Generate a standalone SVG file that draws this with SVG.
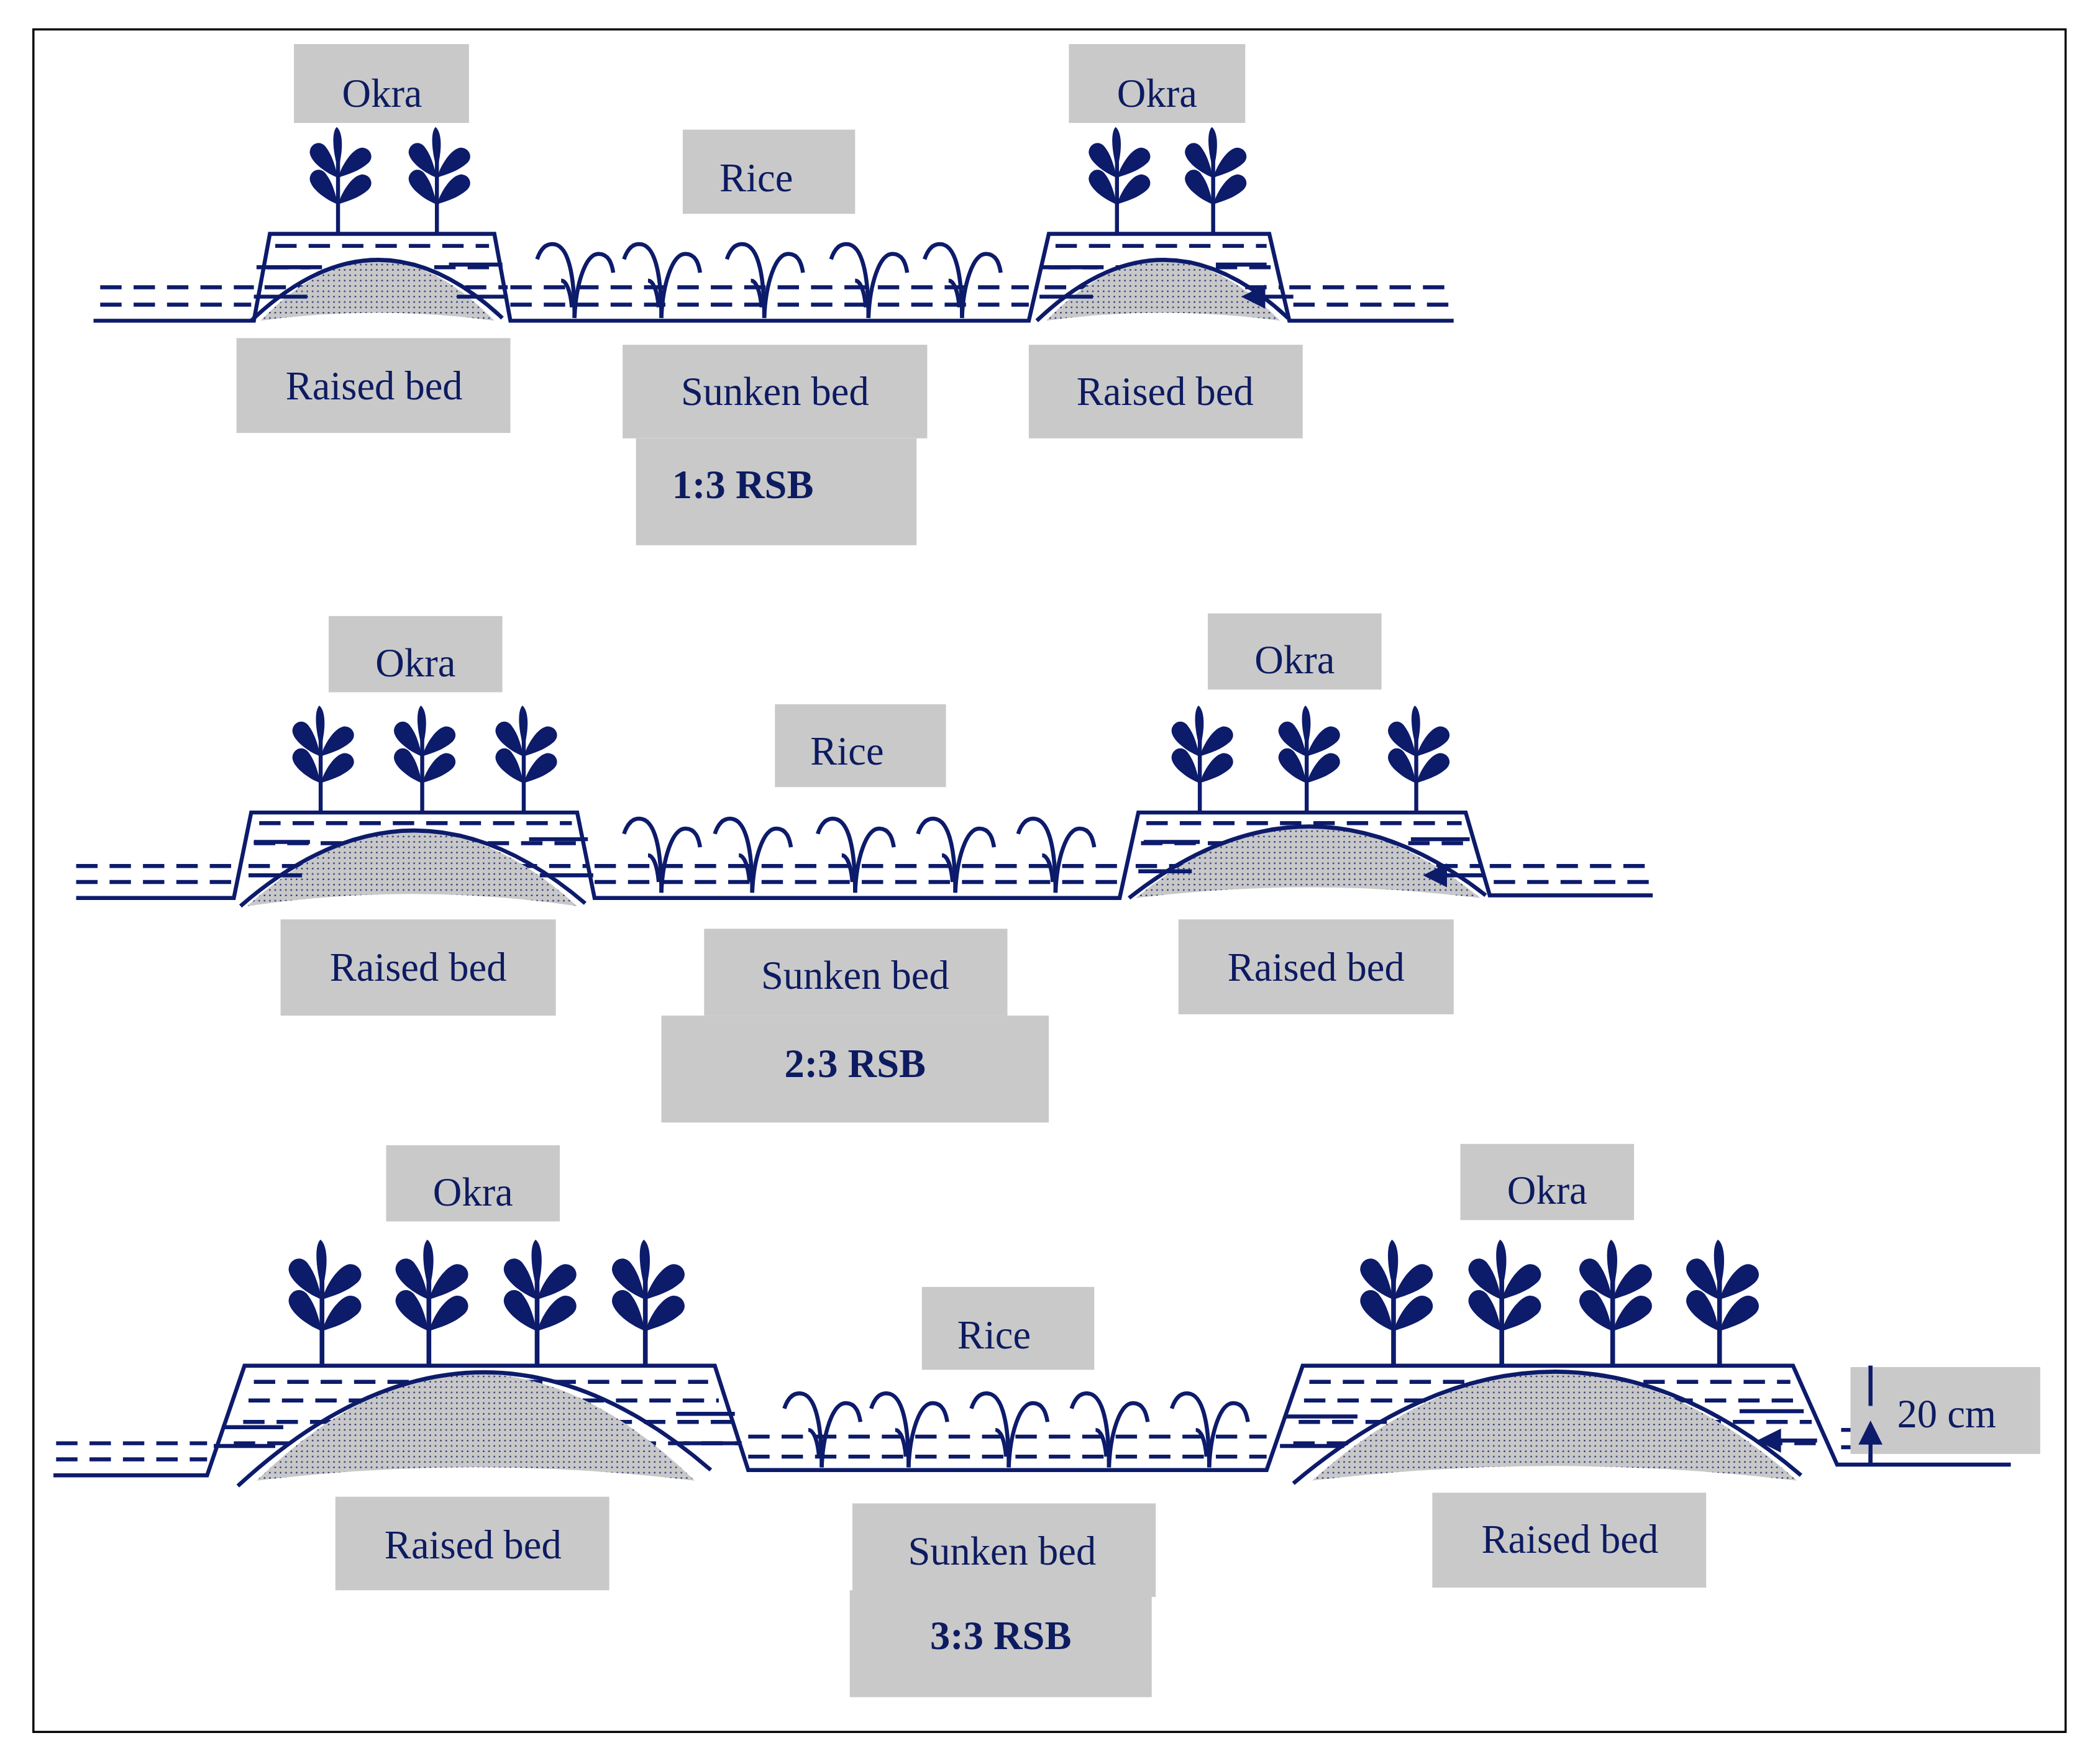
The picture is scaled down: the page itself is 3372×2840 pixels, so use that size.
<svg xmlns="http://www.w3.org/2000/svg" xmlns:xlink="http://www.w3.org/1999/xlink" width="3372" height="2840" viewBox="0 0 3372 2840">
<style>
.box{fill:#c9c9c9}
.t{font-family:"Liberation Serif",serif;font-size:30px;fill:#0d1b60;text-anchor:middle}
.b{font-weight:bold}
.ln{fill:none;stroke:#0d1b6b;stroke-width:3}
.ds{fill:none;stroke:#0d1b6b;stroke-width:3;stroke-dasharray:16 9}
.ar{fill:none;stroke:#0d1b6b;stroke-width:3;marker-end:url(#ah)}
.md{fill:url(#dots)}
.nv{fill:#0d1b6b}
</style>
<defs>
<pattern id="dots" width="4" height="4" patternUnits="userSpaceOnUse"><rect width="4" height="4" fill="#c8c8c8"/><circle cx="2" cy="2" r="0.6" fill="#0d1b6b"/></pattern>
<marker id="ah" markerWidth="6" markerHeight="6" refX="5" refY="3" orient="auto" markerUnits="strokeWidth"><path d="M0,0 L6,3 L0,6 Z" fill="#0d1b6b"/></marker>
<path id="leaf" d="M0,0 C-5,-8 -9,-22 -5,-28 C-1,-33 7,-31 7,-24 C7,-15 3,-7 0,0Z" fill="#0d1b6b"/>
<g id="okra">
<path d="M0,0 L0,-62" class="ln"/>
<path d="M0,-48 C-4,-62 -5,-76 -1,-80 C4,-76 4,-62 0,-48Z" class="nv"/>
<use xlink:href="#leaf" transform="translate(0,-22) rotate(-38)"/>
<use xlink:href="#leaf" transform="translate(0,-22) rotate(48)"/>
<use xlink:href="#leaf" transform="translate(0,-42) rotate(-38)"/>
<use xlink:href="#leaf" transform="translate(0,-42) rotate(48)"/>
</g>
<g id="rice" class="ln">
<path d="M0,0 C0,-30 -4,-52 -14,-55 C-22,-57 -26,-50 -28,-44"/>
<path d="M0,0 C1,-25 8,-48 18,-48 C26,-48 28,-40 29,-34"/>
<path d="M-2,-8 C-3,-20 -6,-28 -10,-28"/>
</g>
</defs>
<g transform="scale(2.1505,2.1515)">
<rect x="25" y="22" width="1521" height="1274" fill="none" stroke="#000" stroke-width="1.6"/>

<g id="connectors">
<!-- Row 1 -->
<path class="ln" d="M70,240 H190 L202,175 H370 L382,240 H770 L785,175 H950 L965,240 H1088"/>
<path class="ds" d="M75,215 H190 M75,228 H188 M206,184 H366 M200,200 H376 M198,215 H380 M382,215 H770 M382,228 H770 M790,184 H948 M785,200 H955 M782,215 H960 M965,215 H1085 M968,228 H1085"/>
<path class="md" d="M195,240 Q282,150 370,240 Q282,228 195,240Z"/>
<path class="ln" d="M188,240 Q282,150 376,238"/>
<path class="md" d="M783,240 Q870,150 958,240 Q870,228 783,240Z"/>
<path class="ln" d="M776,240 Q870,150 964,238"/>
<path class="ar" d="M192,200 H232 M376,198 H336 M190,222 H230 M380,222 H342 M780,200 H822 M948,198 H910 M778,222 H818 M968,222 H932"/>
<!-- Row 2 -->
<path class="ln" d="M57,672 H175 L188,608 H432 L445,672 H838 L852,608 H1097 L1115,670 H1237"/>
<path class="ds" d="M57,648 H175 M57,660 H175 M194,616 H428 M190,631 H434 M186,648 H440 M445,648 H838 M445,660 H838 M858,616 H1094 M854,631 H1100 M850,648 H1108 M1115,648 H1235 M1118,660 H1235"/>
<path class="md" d="M185,678 Q309,566 432,678 Q309,660 185,678Z"/>
<path class="ln" d="M180,678 Q309,566 438,676"/>
<path class="md" d="M850,672 Q979,566 1108,672 Q979,656 850,672Z"/>
<path class="ln" d="M845,672 Q979,566 1112,670"/>
<path class="ar" d="M190,630 H232 M440,628 H396 M186,655 H226 M444,655 H404 M856,630 H898 M1100,628 H1056 M852,652 H892 M1110,655 H1068"/>
<!-- Row 3 -->
<path class="ln" d="M40,1104 H155 L183,1022 H535 L560,1100 H948 L975,1022 H1342 L1375,1096 H1505"/>
<path class="ds" d="M42,1080 H155 M42,1092 H155 M190,1034 H530 M186,1048 H538 M182,1064 H548 M175,1080 H555 M560,1075 H948 M560,1090 H948 M980,1034 H1340 M976,1048 H1346 M972,1064 H1356 M968,1080 H1362 M1378,1070 H1500 M1378,1083 H1500"/>
<path class="md" d="M192,1108 Q356,948 520,1108 Q356,1088 192,1108Z"/>
<path class="ln" d="M178,1112 Q356,948 532,1100"/>
<path class="md" d="M982,1108 Q1163,946 1345,1108 Q1163,1086 982,1108Z"/>
<path class="ln" d="M968,1110 Q1163,946 1348,1104"/>
<path class="ar" d="M166,1068 H212 M550,1058 H506 M160,1082 H206 M555,1080 H512 M962,1060 H1016 M1350,1056 H1302 M958,1082 H1006 M1360,1078 H1318"/>
<path class="ar" d="M1400,1022 V1052 M1400,1096 V1066"/>
</g>

<g id="plants">
<use xlink:href="#okra" x="253" y="175"/>
<use xlink:href="#okra" x="327" y="175"/>
<use xlink:href="#okra" x="836" y="175"/>
<use xlink:href="#okra" x="908" y="175"/>
<use xlink:href="#rice" x="430" y="238"/>
<use xlink:href="#rice" x="495" y="238"/>
<use xlink:href="#rice" x="572" y="238"/>
<use xlink:href="#rice" x="650" y="238"/>
<use xlink:href="#rice" x="720" y="238"/>
<use xlink:href="#okra" x="240" y="608"/>
<use xlink:href="#okra" x="316" y="608"/>
<use xlink:href="#okra" x="392" y="608"/>
<use xlink:href="#okra" x="898" y="608"/>
<use xlink:href="#okra" x="978" y="608"/>
<use xlink:href="#okra" x="1060" y="608"/>
<use xlink:href="#rice" x="495" y="668"/>
<use xlink:href="#rice" x="563" y="668"/>
<use xlink:href="#rice" x="640" y="668"/>
<use xlink:href="#rice" x="715" y="668"/>
<use xlink:href="#rice" x="790" y="668"/>
<g transform="translate(241,1022) scale(1.18)"><use xlink:href="#okra"/></g>
<g transform="translate(321,1022) scale(1.18)"><use xlink:href="#okra"/></g>
<g transform="translate(402,1022) scale(1.18)"><use xlink:href="#okra"/></g>
<g transform="translate(483,1022) scale(1.18)"><use xlink:href="#okra"/></g>
<g transform="translate(1043,1022) scale(1.18)"><use xlink:href="#okra"/></g>
<g transform="translate(1124,1022) scale(1.18)"><use xlink:href="#okra"/></g>
<g transform="translate(1207,1022) scale(1.18)"><use xlink:href="#okra"/></g>
<g transform="translate(1287,1022) scale(1.18)"><use xlink:href="#okra"/></g>
<use xlink:href="#rice" x="615" y="1098"/>
<use xlink:href="#rice" x="680" y="1098"/>
<use xlink:href="#rice" x="755" y="1098"/>
<use xlink:href="#rice" x="830" y="1098"/>
<use xlink:href="#rice" x="905" y="1098"/>
</g>

<g id="okra1a"><rect class="box" x="220" y="33" width="131" height="59"/><text class="t" x="286" y="80">Okra</text></g>
<g id="okra1b"><rect class="box" x="800" y="33" width="132" height="59"/><text class="t" x="866" y="80">Okra</text></g>
<g id="rice1"><rect class="box" x="511" y="97" width="129" height="63"/><text class="t" x="566" y="143">Rice</text></g>
<g id="raised1a"><rect class="box" x="177" y="253" width="205" height="71"/><text class="t" x="280" y="299">Raised bed</text></g>
<g id="sunken1"><rect class="box" x="466" y="258" width="228" height="70"/><text class="t" x="580" y="303">Sunken bed</text></g>
<g id="rsb1"><rect class="box" x="476" y="328" width="210" height="80"/><text class="t b" x="556" y="373">1:3 RSB</text></g>
<g id="raised1b"><rect class="box" x="770" y="258" width="205" height="70"/><text class="t" x="872" y="303">Raised bed</text></g>

<g id="okra2a"><rect class="box" x="246" y="461" width="130" height="57"/><text class="t" x="311" y="506">Okra</text></g>
<g id="okra2b"><rect class="box" x="904" y="459" width="130" height="57"/><text class="t" x="969" y="504">Okra</text></g>
<g id="rice2"><rect class="box" x="580" y="527" width="128" height="62"/><text class="t" x="634" y="572">Rice</text></g>
<g id="raised2a"><rect class="box" x="210" y="688" width="206" height="72"/><text class="t" x="313" y="734">Raised bed</text></g>
<g id="sunken2"><rect class="box" x="527" y="695" width="227" height="65"/><text class="t" x="640" y="740">Sunken bed</text></g>
<g id="rsb2"><rect class="box" x="495" y="760" width="290" height="80"/><text class="t b" x="640" y="806">2:3 RSB</text></g>
<g id="raised2b"><rect class="box" x="882" y="688" width="206" height="71"/><text class="t" x="985" y="734">Raised bed</text></g>

<g id="okra3a"><rect class="box" x="289" y="857" width="130" height="57"/><text class="t" x="354" y="902">Okra</text></g>
<g id="okra3b"><rect class="box" x="1093" y="856" width="130" height="57"/><text class="t" x="1158" y="901">Okra</text></g>
<g id="rice3"><rect class="box" x="690" y="963" width="129" height="62"/><text class="t" x="744" y="1009">Rice</text></g>
<g id="raised3a"><rect class="box" x="251" y="1120" width="205" height="70"/><text class="t" x="354" y="1166">Raised bed</text></g>
<g id="sunken3"><rect class="box" x="638" y="1125" width="227" height="70"/><text class="t" x="750" y="1171">Sunken bed</text></g>
<g id="rsb3"><rect class="box" x="636" y="1190" width="226" height="80"/><text class="t b" x="749" y="1234">3:3 RSB</text></g>
<g id="raised3b"><rect class="box" x="1072" y="1117" width="205" height="71"/><text class="t" x="1175" y="1162">Raised bed</text></g>
<g id="dim20"><rect class="box" x="1385" y="1023" width="142" height="65"/><text class="t" x="1457" y="1068">20 cm</text></g>
<path class="ar" d="M1400,1022 V1052 M1400,1096 V1066"/>
</g>
</svg>
